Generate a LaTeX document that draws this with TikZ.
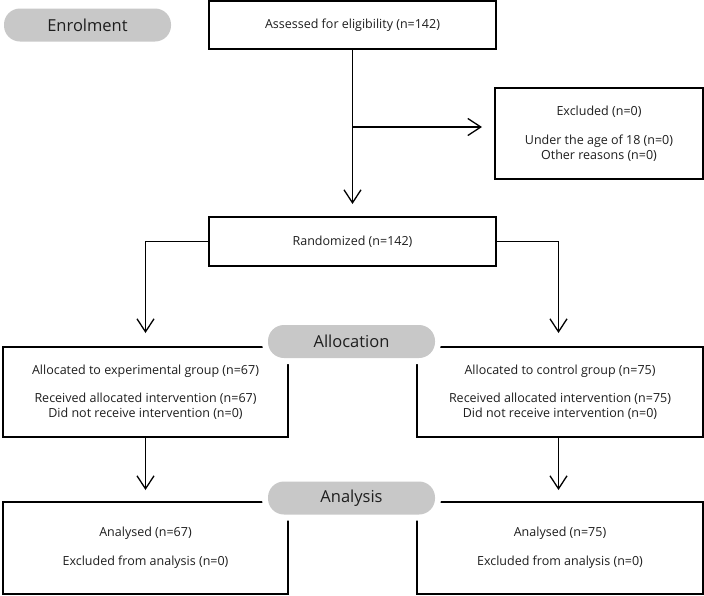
\documentclass[tikz,border=0pt]{standalone}
\usepackage{fontspec}
\setmainfont{Open Sans}
\usetikzlibrary{arrows.meta}
\definecolor{pillgray}{HTML}{C8C8C8}
\definecolor{txt}{HTML}{1E1E1E}
\tikzset{
  box/.style={draw=black, line width=1.3pt, fill=white, rectangle, inner sep=0pt, outer sep=0pt,
    align=center, font=\fontsize{12.5}{15}\selectfont, text=txt},
  pill/.style={fill=pillgray, rounded corners=16pt, minimum width=167pt, minimum height=33pt,
    inner sep=0pt, outer sep=0pt, font=\fontsize{16.5}{18}\selectfont, text=txt,
    preaction={draw=white, line width=12pt}},
  arr/.style={line width=1.3pt, -{Straight Barb[length=13pt,width=17pt,line width=1.3pt]}},
  ln/.style={line width=1.3pt}
}
\begin{document}
\begin{tikzpicture}[x=1pt,y=-1pt]
\useasboundingbox[fill=white] (0,0) rectangle (704,595);
% boxes
\node[box, minimum width=287pt, minimum height=48pt] (assess) at (352.5,25) {Assessed for eligibility (n=142)};
\node[box, minimum width=208pt, minimum height=91pt] (excl) at (599,133.5) {Excluded (n=0)\\[14pt]Under the age of 18 (n=0)\\Other reasons (n=0)};
\node[box, minimum width=287pt, minimum height=49pt] (rand) at (352.5,241.5) {Randomized (n=142)};
\node[box, minimum width=285pt, minimum height=90pt] (allocL) at (145.5,392) {Allocated to experimental group (n=67)\\[13pt]Received allocated intervention (n=67)\\Did not receive intervention (n=0)};
\node[box, minimum width=286pt, minimum height=90pt] (allocR) at (560,392) {Allocated to control group (n=75)\\[13pt]Received allocated intervention (n=75)\\Did not receive intervention (n=0)};
\node[box, minimum width=285pt, minimum height=92pt] (anL) at (145.5,548) {Analysed (n=67)\\[14pt]Excluded from analysis (n=0)};
\node[box, minimum width=286pt, minimum height=92pt] (anR) at (560,548) {Analysed (n=75)\\[14pt]Excluded from analysis (n=0)};
% pills
\node[pill, preaction={draw=none}] (enrol) at (87.5,25) {Enrolment};
\node[pill] (allocation) at (351.5,341.5) {Allocation};
\node[pill] (analysis) at (351.5,498) {Analysis};
% connectors
\coordinate (br) at (352.5,127);
\coordinate (colR) at (558.5,0);
\draw[arr, shorten >=13pt] (assess) -- (rand);
\draw[arr, shorten >=13pt] (br) -- (br -| excl.west);
\draw[arr, shorten >=14pt] (rand.west) -| (allocL.north);
\draw[arr, shorten >=14pt] (rand.east) -| (colR |- allocR.north);
\draw[arr, shorten >=12pt] (allocL.south) -- (anL.north);
\draw[arr, shorten >=12pt] (colR |- allocR.south) -- (colR |- anR.north);
\end{tikzpicture}
\end{document}
